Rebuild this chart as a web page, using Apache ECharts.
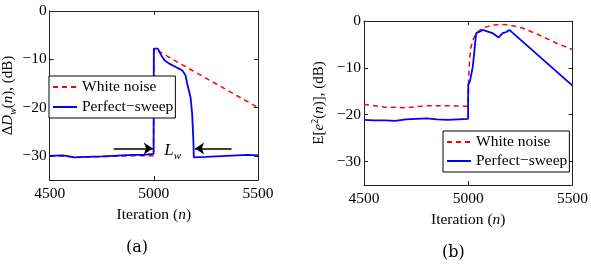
<!DOCTYPE html>
<html>
<head>
<meta charset="utf-8">
<script src="https://cdn.jsdelivr.net/npm/echarts@6/dist/echarts.min.js"></script>
<style>
html,body{margin:0;padding:0;background:#fff}
#main{width:591px;height:268px}
</style>
</head>
<body>
<div id="main"></div>
<script>
// axis ticks
var xTicks = [4500, 5000, 5500];
var yTicks = [-30, -20, -10, 0];

// (a) weight misalignment
var aWhiteX = [4500, 4550, 4600, 4650, 4700, 4800, 4900, 4999, 5000, 5500];
var aWhiteY = [-30, -30, -30.2, -30.3, -30.2, -30.1, -30, -30, -7.8, -20];
var aSweepX = [4500, 4560, 4580, 4620, 4680, 4750, 4850, 4900, 4950, 4999,
               5000, 5019, 5035, 5051, 5074, 5105, 5137, 5152, 5160, 5176, 5184, 5190, 5192,
               5250, 5350, 5450, 5500];
var aSweepY = [-30, -29.9, -30, -30.3, -30.2, -30.1, -29.9, -29.8, -29.8, -29.6,
               -7.8, -7.8, -9.1, -10.2, -10.9, -11.6, -12.3, -13.3, -15, -17.8, -21.3, -27, -30.3,
               -30.2, -30, -29.8, -29.9];

// (b) mean square error
var bWhiteX = [4500, 4550, 4600, 4650, 4700, 4750, 4800, 4900, 4999, 5000, 5002, 5008, 5014,
               5025, 5038, 5069, 5117, 5160, 5197, 5261, 5341, 5421, 5500];
var bWhiteY = [-17.8, -18.1, -18.4, -18.4, -18.5, -18.3, -18.1, -18.1, -18.2, -17, -11.8, -7.5, -5.4,
               -3.8, -2.6, -1.5, -0.85, -0.75, -0.85, -1.5, -3.0, -4.7, -6.1];
var bSweepX = [4500, 4550, 4600, 4650, 4700, 4750, 4800, 4850, 4900, 4950, 4999, 5000, 5008,
               5022, 5038, 5054, 5069, 5090, 5117, 5146, 5165, 5180, 5197, 5500];
var bSweepY = [-21.1, -21.2, -21.2, -21.3, -21.0, -20.9, -20.8, -21.0, -21.1, -21.0, -20.9, -13.6, -12.9,
               -9.7, -2.6, -2.3, -1.9, -2.2, -2.6, -3.5, -2.6, -2.4, -1.9, -13.8];

// annotation (a): arrows around L_w
var arrowLeft = [[4807, -28.5], [4995, -28.5]];
var arrowRight = [[5373, -28.5], [5198, -28.5]];
var lwPos = [5090, -28.8];

function zip(xs, ys) {
    return xs.map(function (x, i) { return [x, ys[i]]; });
}

var serif = 'Liberation Serif';
var fs = 15.5;

function xAxisOf(g, pos, name) {
    return {
        type: 'value', gridIndex: g, position: pos,
        min: 4500, max: 5500, interval: 500,
        name: name || '', nameLocation: 'middle', nameGap: 19,
        nameTextStyle: { color: '#000', fontFamily: serif, fontSize: fs,
            rich: { r: { fontFamily: serif, fontSize: fs }, i: { fontFamily: serif, fontSize: fs, fontStyle: 'italic' } } },
        axisLine: { show: true, onZero: false, lineStyle: { color: '#222', width: 1 } },
        axisTick: { show: true, inside: true, length: 4, customValues: xTicks, lineStyle: { color: '#222' } },
        axisLabel: { show: pos === 'bottom', margin: 6, customValues: xTicks,
            color: '#000', fontFamily: serif, fontSize: fs,
            formatter: function (v) { return String(v); } },
        splitLine: { show: false }
    };
}

function yAxisOf(g, pos, name, gap) {
    return {
        type: 'value', gridIndex: g, position: pos,
        min: -35, max: 0,
        name: name || '', nameLocation: 'middle', nameGap: gap || 30, nameRotate: 90,
        nameTextStyle: { color: '#000', fontFamily: serif, fontSize: 15,
            rich: {
                r: { fontFamily: serif, fontSize: 15, color: '#000' },
                i: { fontFamily: serif, fontSize: 15, fontStyle: 'italic', color: '#000' },
                s: { fontFamily: serif, fontSize: 10, fontStyle: 'italic', color: '#000', padding: [10, 0, 0, 0] },
                p: { fontFamily: serif, fontSize: 10, color: '#000', padding: [0, 0, 8, 0] }
            } },
        axisLine: { show: true, onZero: false, lineStyle: { color: '#222', width: 1 } },
        axisTick: { show: true, inside: true, length: 4, customValues: yTicks, lineStyle: { color: '#222' } },
        axisLabel: { show: pos === 'left', margin: 3, customValues: yTicks,
            color: '#000', fontFamily: serif, fontSize: fs,
            formatter: function (v) { return String(v).replace('-', '\u2212'); } },
        splitLine: { show: false }
    };
}

function legendOf(left, top, gap) {
    return {
        left: left, top: top, orient: 'vertical',
        data: ['White noise', 'Perfect\u2212sweep'],
        itemWidth: 24, itemHeight: 14, itemGap: gap,
        padding: [3, 2, 3, 3],
        backgroundColor: '#fff', borderColor: '#000', borderWidth: 1, borderRadius: 0,
        itemStyle: { opacity: 0 },
        textStyle: { color: '#000', fontFamily: serif, fontSize: fs }
    };
}

var redLine = { color: '#ff0000', width: 1.5, type: [5, 4] };
var blueLine = { color: '#0000ff', width: 1.8 };

var chart = echarts.init(document.getElementById('main'));
chart.setOption({
    animation: false,
    backgroundColor: '#fff',
    textStyle: { fontFamily: serif },
    grid: [
        { left: 45, top: 11, width: 213, height: 169 },
        { left: 364, top: 21, width: 209, height: 164 }
    ],
    xAxis: [
        xAxisOf(0, 'bottom', '{r|Iteration (}{i|n}{r|)}'),
        xAxisOf(0, 'top'),
        xAxisOf(1, 'bottom', '{r|Iteration (}{i|n}{r|)}'),
        xAxisOf(1, 'top')
    ],
    yAxis: [
        yAxisOf(0, 'left', '{r|\u0394}{i|D}{s|w}{r|(}{i|n}{r|), (dB)}', 31),
        yAxisOf(0, 'right'),
        yAxisOf(1, 'left', '{r|E[}{i|e}{p|2}{r|(}{i|n}{r|)], (dB)}', 36),
        yAxisOf(1, 'right')
    ],
    legend: [legendOf(49, 76, 4), legendOf(443, 131, 3)],
    graphic: [
        { type: 'text', left: 126, top: 240, style: { text: '(a)', fill: '#000', font: '16px "DejaVu Serif"' } },
        { type: 'text', left: 442, top: 245, style: { text: '(b)', fill: '#000', font: '16px "DejaVu Serif"' } }
    ],
    series: [
        { name: 'White noise', type: 'line', xAxisIndex: 0, yAxisIndex: 0, symbol: 'none',
          lineStyle: redLine, itemStyle: { color: '#ff0000' }, data: zip(aWhiteX, aWhiteY) },
        { name: 'Perfect\u2212sweep', type: 'line', xAxisIndex: 0, yAxisIndex: 0, symbol: 'none',
          lineStyle: blueLine, itemStyle: { color: '#0000ff' }, data: zip(aSweepX, aSweepY),
          markLine: {
              silent: true, symbol: ['none', 'arrow'], symbolSize: 9,
              label: { show: false },
              lineStyle: { color: '#000', width: 1.5, type: 'solid' },
              data: [
                  [{ coord: arrowLeft[0] }, { coord: arrowLeft[1] }],
                  [{ coord: arrowRight[0] }, { coord: arrowRight[1] }]
              ]
          },
          markPoint: {
              silent: true, symbol: 'circle', symbolSize: 0,
              data: [{ coord: lwPos }],
              label: { show: true, position: 'inside', formatter: '{L|L}{w|w}',
                  rich: {
                      L: { fontFamily: serif, fontSize: 17, fontStyle: 'italic', color: '#000' },
                      w: { fontFamily: serif, fontSize: 11, fontStyle: 'italic', color: '#000', padding: [12, 0, 0, 0] }
                  } }
          } },
        { name: 'White noise', type: 'line', xAxisIndex: 2, yAxisIndex: 2, symbol: 'none',
          lineStyle: redLine, itemStyle: { color: '#ff0000' }, data: zip(bWhiteX, bWhiteY) },
        { name: 'Perfect\u2212sweep', type: 'line', xAxisIndex: 2, yAxisIndex: 2, symbol: 'none',
          lineStyle: blueLine, itemStyle: { color: '#0000ff' }, data: zip(bSweepX, bSweepY) }
    ]
});
</script>
</body>
</html>
